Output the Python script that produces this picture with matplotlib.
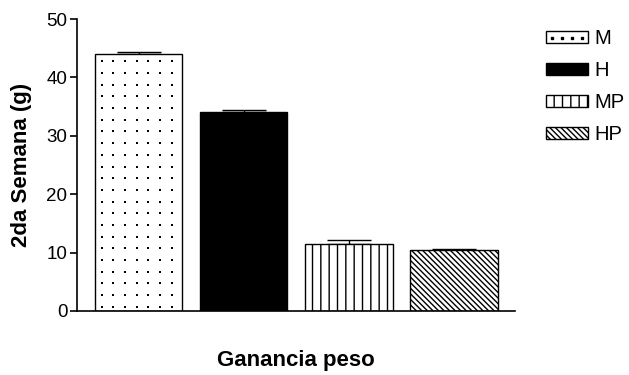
import numpy as np
import matplotlib.pyplot as plt
import matplotlib.patches as mpatches
from matplotlib.lines import Line2D

# Ganancia de peso en la 2da semana por grupo
grupos = ["M", "H", "MP", "HP"]
medias = [44.0, 34.0, 11.5, 10.45]
errores = [0.4, 0.5, 0.65, 0.15]

colores = ["white", "black", "white", "white"]
tramas = [None, None, "||", "\\\\\\\\\\\\"]

plt.rcParams["font.family"] = ["Liberation Sans", "DejaVu Sans"]
plt.rcParams["hatch.linewidth"] = 1.0

fig = plt.figure(figsize=(6.29, 3.75), dpi=100)
ax = fig.add_axes([0.1224, 0.1707, 0.6964, 0.7786])

ancho = 0.83
x = np.arange(len(grupos))
barras = ax.bar(x, medias, width=ancho, color=colores, edgecolor="black",
                linewidth=1.0, zorder=2)
for b, h in zip(barras, tramas):
    if h:
        b.set_hatch(h)

# punteado de la barra M: rejilla regular de puntos dentro de la barra
b = barras[0]
px = b.get_x() + 0.064 + 0.111 * np.arange(7)
py = np.arange(0.74, b.get_height() - 0.8, 2.0)
gx, gy = np.meshgrid(px, py)
ax.scatter(gx.ravel(), gy.ravel(), s=4.3, marker="s", color="black",
           linewidths=0, zorder=3)

ax.errorbar(x, medias, yerr=[[0] * len(errores), errores], fmt="none",
            ecolor="black", elinewidth=1.0, capsize=15.5, capthick=1.0, zorder=1)

ax.set_xlim(-0.585, 3.58)
ax.set_ylim(0, 50)
ax.set_yticks([0, 10, 20, 30, 40, 50])
ax.set_xticks([])

ax.spines["top"].set_visible(False)
ax.spines["right"].set_visible(False)
ax.spines["left"].set_linewidth(1.2)
ax.spines["bottom"].set_linewidth(1.2)
ax.tick_params(axis="y", direction="out", length=5, width=1.2, labelsize=13.5, pad=2)

ax.set_ylabel("2da Semana (g)", fontsize=16, fontweight="bold", labelpad=10)
ax.set_xlabel("Ganancia peso", fontsize=16, fontweight="bold", labelpad=28)

handles = []
for g, c, h in zip(grupos, colores, tramas):
    caja = mpatches.Patch(facecolor=c, edgecolor="black", hatch=h, label=g)
    if g == "M":
        puntos = Line2D([], [], linestyle="none", marker="s", markersize=1.8,
                        color="black")
        handles.append((caja, puntos))
    else:
        handles.append(caja)
fig.legend(handles=handles, labels=grupos, loc="upper left",
           bbox_to_anchor=(0.868, 0.922), frameon=False, fontsize=14.5,
           handlelength=2.1, handleheight=0.55, handletextpad=0.3,
           labelspacing=0.64, borderaxespad=0, numpoints=4, borderpad=0)

fig.savefig("out.png", dpi=100)
